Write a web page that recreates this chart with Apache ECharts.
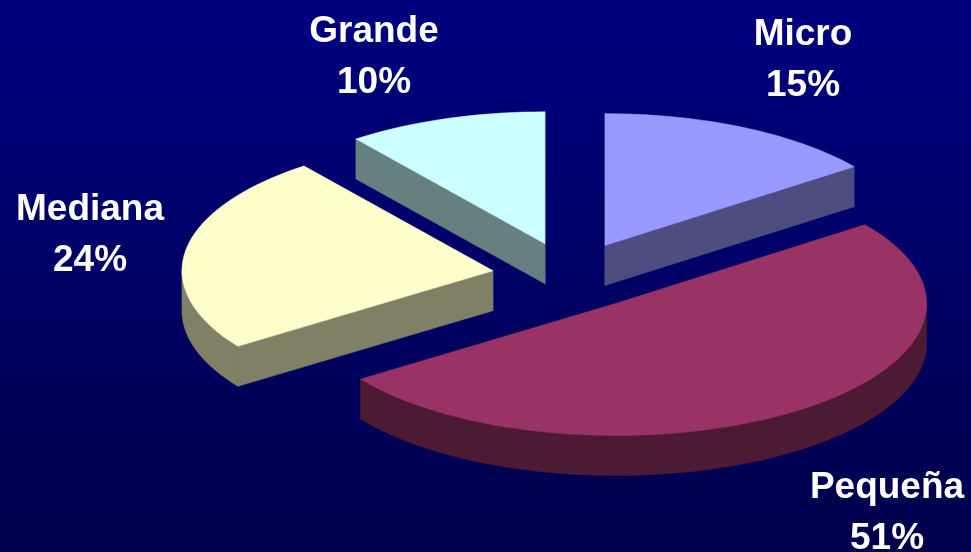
<!DOCTYPE html>
<html>
<head>
<meta charset="utf-8">
<style>html,body{margin:0;padding:0;width:971px;height:552px;overflow:hidden;background:#000060}#c{width:971px;height:552px}</style>
<script src="https://cdn.jsdelivr.net/npm/echarts@6/dist/echarts.min.js"></script>
</head>
<body>
<div id="c"></div>
<script>
const categories = ['Micro', 'Pequeña', 'Mediana', 'Grande'];
const percents = [14.8, 50.5, 24.3, 10.4];

const topColors = ['#9999FF', '#993366', '#FFFFCC', '#CCFFFF'];
const sideColors = ['#4D4D80', '#4D1A33', '#808066', '#668080'];
const labelCenters = [[803, 60], [887, 513], [90, 235], [374, 57]];
const geom = { cx: 570, cy: 276, a: 311, b: 132, depth: 40, explodeX: 78, explodeY: 34 };
const fontFamily = '"Liberation Sans", Arial, sans-serif';

const total = percents.reduce((s, v) => s + v, 0);
const startOf = i => percents.slice(0, i).reduce((s, v) => s + v, 0) / total * 360;
const rad = d => d * Math.PI / 180;

function arcPts(cx, cy, t0, t1) {
  const pts = [], n = Math.max(2, Math.ceil((t1 - t0) / 2));
  for (let k = 0; k <= n; k++) {
    const t = rad(t0 + (t1 - t0) * k / n);
    pts.push([cx + geom.a * Math.sin(t), cy - geom.b * Math.cos(t)]);
  }
  return pts;
}
const down = pts => pts.map(p => [p[0], p[1] + geom.depth]);
const poly = (points, fill) => ({
  type: 'polygon', shape: { points },
  style: { fill, stroke: fill, lineWidth: 0.5 }
});

function renderItem(params, api) {
  const i = params.dataIndex;
  const t0 = startOf(i), t1 = t0 + api.value(1) / total * 360;
  const mid = rad((t0 + t1) / 2);
  const cx = geom.cx + geom.explodeX * Math.sin(mid);
  const cy = geom.cy - geom.explodeY * Math.cos(mid);
  const apex = [cx, cy];
  const arc = arcPts(cx, cy, t0, t1);
  const first = arc[0], last = arc[arc.length - 1];
  const side = sideColors[i];
  const children = [];
  // radial cut faces
  children.push(poly([apex, first, [first[0], first[1] + geom.depth], [cx, cy + geom.depth]], side));
  children.push(poly([apex, last, [last[0], last[1] + geom.depth], [cx, cy + geom.depth]], side));
  // outer wall: only the front half of the ellipse is visible
  const f0 = Math.max(t0, 90), f1 = Math.min(t1, 270);
  if (f1 > f0) {
    const wall = arcPts(cx, cy, f0, f1);
    children.push(poly(wall.concat(down(wall).reverse()), side));
  }
  // top face
  children.push(poly([apex].concat(arc), topColors[i]));
  // label
  const lc = labelCenters[i];
  children.push({
    type: 'text',
    style: {
      x: lc[0], y: lc[1], text: categories[i] + '\n' + Math.round(api.value(1)) + '%',
      fill: '#FFFFFF', font: 'bold 37px ' + fontFamily,
      lineHeight: 51, align: 'center', verticalAlign: 'middle'
    }
  });
  return { type: 'group', children };
}

const chart = echarts.init(document.getElementById('c'), null, { renderer: 'canvas' });
chart.setOption({
  animation: false,
  backgroundColor: {
    type: 'linear', x: 0, y: 0, x2: 0, y2: 1,
    colorStops: [{ offset: 0, color: '#000080' }, { offset: 1, color: '#00004C' }]
  },
  series: [{
    type: 'custom',
    coordinateSystem: 'none',
    renderItem,
    data: categories.map((c, i) => [i, percents[i], c])
  }]
});
</script>
</body>
</html>
